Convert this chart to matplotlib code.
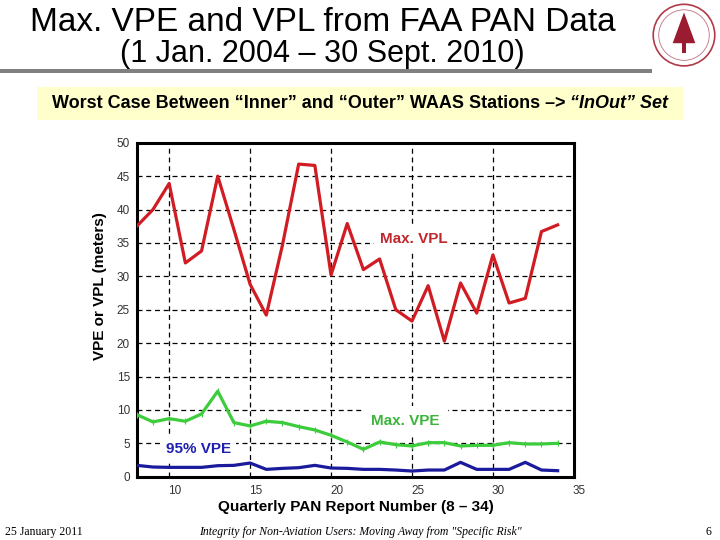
import matplotlib.pyplot as plt
import matplotlib.transforms as mtransforms
from matplotlib.patches import Rectangle, Circle, Polygon

# data
report = list(range(8, 35))
max_vpl = [37.5, 40.0, 43.9, 32.0, 33.8, 45.0, 37.0, 28.8, 24.2, 34.7, 46.8, 46.6, 30.2,
           37.9, 31.0, 32.6, 25.0, 23.3, 28.6, 20.3, 29.0, 24.5, 33.2, 26.0, 26.7, 36.7, 37.7]
max_vpe = [9.3, 8.2, 8.7, 8.3, 9.4, 12.8, 8.1, 7.6, 8.3, 8.1, 7.5, 7.0, 6.2,
           5.2, 4.1, 5.2, 4.8, 4.6, 5.1, 5.1, 4.6, 4.7, 4.7, 5.1, 4.9, 4.9, 5.0]
vpe_95 = [1.7, 1.45, 1.4, 1.4, 1.4, 1.65, 1.7, 2.05, 1.1, 1.25, 1.35, 1.7, 1.3,
          1.25, 1.1, 1.1, 1.0, 0.85, 1.0, 1.0, 2.15, 1.1, 1.1, 1.1, 2.15, 1.0, 0.9]
xticks = [10, 15, 20, 25, 30, 35]
yticks = list(range(0, 51, 5))

# colours
RED = "#d01c22"
GREEN = "#3ccc3c"
BLUE = "#1a1a9c"

plt.rcParams["font.family"] = ["Liberation Sans", "DejaVu Sans"]

fig = plt.figure(figsize=(7.2, 5.4), dpi=100)

# title block
fig.text(0.449, 0.958, "Max. VPE and VPL from FAA PAN Data", ha="center", va="center", fontsize=24)
fig.text(0.447, 0.900, "(1 Jan. 2004 \u2013 30 Sept. 2010)", ha="center", va="center", fontsize=22)
fig.add_artist(Rectangle((0, 0.864), 0.905, 0.008, transform=fig.transFigure,
                         facecolor="#808080", edgecolor="none"))

# rough stand-in for the seal
seal = fig.add_axes([0.905, 0.875, 0.09, 0.12])
seal.set_xlim(-1, 1); seal.set_ylim(-1, 1); seal.set_aspect("equal"); seal.axis("off")
seal.add_patch(Circle((0, 0), 0.95, facecolor="white", edgecolor="#b03a48", lw=1.2))
seal.add_patch(Circle((0, 0), 0.78, facecolor="none", edgecolor="#c07080", lw=0.6))
seal.add_patch(Polygon([(0, 0.7), (-0.35, -0.25), (0.35, -0.25)], facecolor="#9b1b30", edgecolor="none"))
seal.add_patch(Rectangle((-0.07, -0.55), 0.14, 0.32, facecolor="#9b1b30", edgecolor="none"))

# yellow banner
fig.add_artist(Rectangle((0.051, 0.778), 0.898, 0.06, transform=fig.transFigure,
                         facecolor="#ffffcc", edgecolor="none"))
left = fig.text(0.072, 0.808, "Worst Case Between \u201cInner\u201d and \u201cOuter\u201d WAAS Stations \u2013> ",
                ha="left", va="center", fontsize=13, fontweight="bold")
renderer = fig.canvas.get_renderer()
bb = left.get_window_extent(renderer)
fig.text(bb.x1 / fig.bbox.width, 0.808, "\u201cInOut\u201d Set", ha="left", va="center", fontsize=13,
         fontweight="bold", fontstyle="italic")

ax = fig.add_axes([0.190, 0.1172, 0.607, 0.6185])
ax.plot(report, max_vpl, color=RED, lw=2.3, zorder=3)
ax.plot(report, max_vpe, color=GREEN, lw=2.3, marker="|", ms=4, mew=0.8, zorder=3)
ax.plot(report, vpe_95, color=BLUE, lw=2.3, zorder=3)

ax.set_xlim(8, 35)
ax.set_ylim(0, 50)
ax.set_xticks(xticks)
ax.set_yticks(yticks)
ax.tick_params(length=0, labelsize=8.5, labelcolor="#333333", pad=5)
ax.tick_params(axis="x", pad=6)
shift = mtransforms.ScaledTranslation(4 / 72, 0, fig.dpi_scale_trans)
for lbl in ax.get_xticklabels():
    lbl.set_transform(lbl.get_transform() + shift)
ax.grid(True, color="black", linestyle=(0, (4, 3)), lw=0.9)
ax.set_axisbelow(True)
for s in ax.spines.values():
    s.set_linewidth(2.2)

box = dict(facecolor="white", edgecolor="none", pad=4)
ax.text(25.1, 35.6, "Max. VPL", color="#c0282d", fontsize=11, fontweight="bold",
        ha="center", va="center", bbox=box, zorder=2)
ax.text(24.6, 8.3, "Max. VPE", color="#3cb43c", fontsize=11, fontweight="bold",
        ha="center", va="center", bbox=dict(facecolor="white", edgecolor="none", pad=6), zorder=2)
ax.text(11.8, 4.1, "95% VPE", color="#2020b0", fontsize=11, fontweight="bold",
        ha="center", va="center", bbox=box, zorder=2)

fig.text(0.139, 0.47, "VPE or VPL (meters)", rotation=90, ha="center", va="center",
         fontsize=11, fontweight="bold")
fig.text(0.494, 0.061, "Quarterly PAN Report Number (8 \u2013 34)", ha="center", va="center",
         fontsize=11, fontweight="bold")

# footer
serif = ["Liberation Serif", "DejaVu Serif"]
fig.text(0.007, 0.015, "25 January 2011", ha="left", va="center", fontsize=8.5, family=serif)
fig.text(0.5, 0.015, "Integrity for Non-Aviation Users: Moving Away from \"Specific Risk\"",
         ha="center", va="center", fontsize=8.5, family=serif, fontstyle="italic")
fig.text(0.988, 0.015, "6", ha="right", va="center", fontsize=8.5, family=serif)

fig.savefig("out.png", dpi=100)
